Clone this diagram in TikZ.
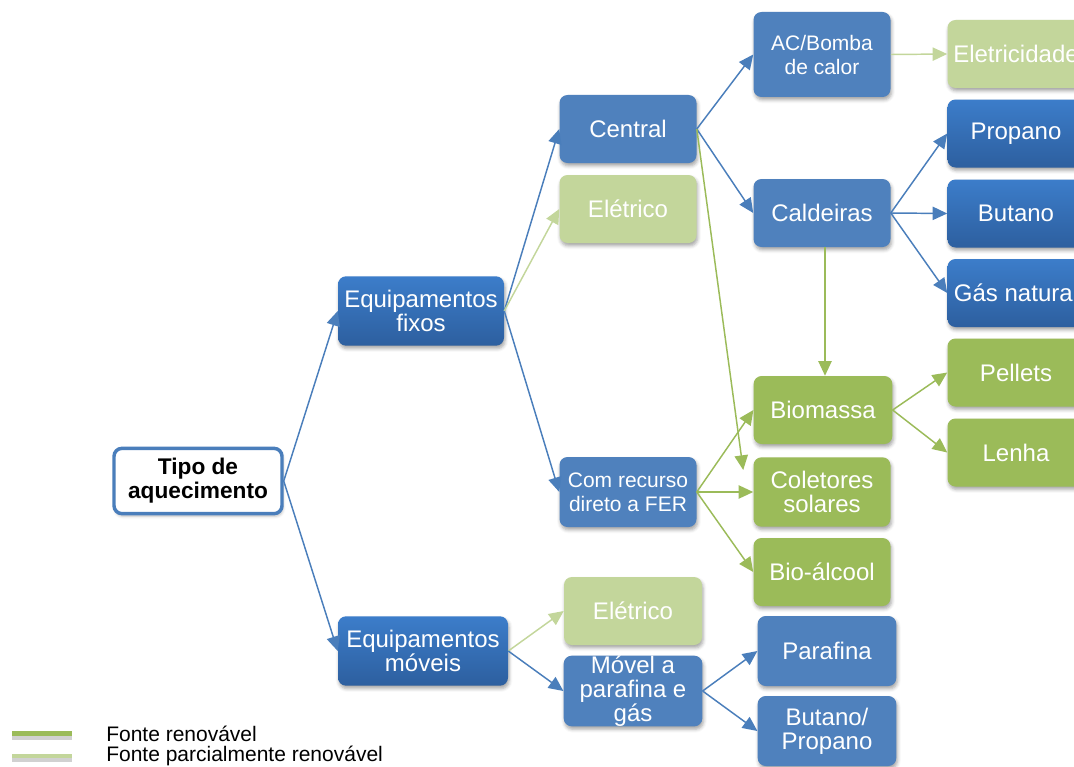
\documentclass[tikz,border=0pt]{standalone}
\usepackage{fontspec}
\setmainfont{Liberation Sans}
\usetikzlibrary{arrows.meta,shadows.blur,calc}

\definecolor{flatblue}{HTML}{4F81BD}
\definecolor{gradtop}{HTML}{3C7DCA}
\definecolor{gradbot}{HTML}{2D5F9F}
\definecolor{renew}{HTML}{9BBB59}
\definecolor{partial}{HTML}{C3D69B}
\definecolor{edgeblue}{HTML}{4A7EBB}

\begin{document}
\begin{tikzpicture}[x=0.75pt,y=-0.75pt,
  box/.style={rounded corners=6pt, minimum width=102.75pt, minimum height=51pt,
    align=center, text=white, inner sep=2pt,
    font=\fontsize{18}{18}\selectfont,
    blur shadow={shadow xshift=0.8pt, shadow yshift=-2.2pt,
      shadow blur radius=2.5pt, shadow opacity=35}},
  bluebox/.style={box, fill=flatblue},
  gradbox/.style={box, top color=gradtop, bottom color=gradbot},
  greenbox/.style={box, fill=renew},
  lightbox/.style={box, fill=partial},
  link/.style={line width=1.1pt, -{Triangle[length=11pt,width=10pt]}},
  bl/.style={link, draw=edgeblue},
  gr/.style={link, draw=renew},
  lg/.style={link, draw=partial},
  smalltext/.style={font=\fontsize{15.75}{18}\selectfont},
  legline/.style={line width=3.6pt}]

\useasboundingbox (0,0) rectangle (1074,767);
\clip (0,0) rectangle (1074,767);

% root
\node[draw=edgeblue, line width=2.6pt, fill=white, rounded corners=6pt,
      minimum width=126pt, minimum height=49pt, align=center,
      font=\fontsize{17}{18}\selectfont\bfseries,
      blur shadow={shadow xshift=0.8pt, shadow yshift=-2pt, shadow blur radius=2pt, shadow opacity=25}]
  (tipo) at (198,481) {Tipo de\\aquecimento};

% first level
\node[gradbox, minimum width=124.5pt, minimum height=52pt] (fixos) at (421,311) {Equipamentos\\fixos};
\node[gradbox, minimum width=127.5pt, minimum height=52pt] (moveis) at (423,651) {Equipamentos\\móveis};

% second level
\node[bluebox] (central) at (628,129) {Central};
\node[lightbox] (elet1) at (628,209) {Elétrico};
\node[bluebox, smalltext, minimum height=52.5pt] (fer) at (628,492) {Com recurso\\direto a FER};
\node[lightbox, minimum width=103.5pt] (elet2) at (633,611) {Elétrico};
\node[bluebox, minimum width=104pt, minimum height=52.5pt, inner ysep=0pt] (movel) at (633,691) {Móvel a\\parafina e\\gás};

% third level
\node[bluebox, smalltext, minimum height=63.75pt] (ac) at (822,54.5) {AC/Bomba\\de calor};
\node[bluebox] (cald) at (822,213) {Caldeiras};
\node[greenbox, minimum width=104pt] (bio) at (823,410) {Biomassa};
\node[greenbox, minimum height=52pt] (colet) at (822,492) {Coletores\\solares};
\node[greenbox] (bioalc) at (822,572) {Bio-álcool};
\node[bluebox, minimum width=104pt, minimum height=52.5pt] (parafina) at (827,651) {Parafina};
\node[bluebox, minimum width=104pt, minimum height=52.5pt] (butprop) at (827,731) {Butano/\\Propano};

% fourth level
\node[lightbox] (eletr) at (1016,54) {Eletricidade};
\node[gradbox] (propano) at (1016,133.5) {Propano};
\node[gradbox] (butano) at (1016,213.5) {Butano};
\node[gradbox] (gas) at (1016,293) {Gás natural};
\node[greenbox] (pellets) at (1016,372.5) {Pellets};
\node[greenbox] (lenha) at (1016,452.5) {Lenha};

% connectors
\draw[bl] (tipo.east) -- (fixos.west);
\draw[bl] (tipo.east) -- (moveis.west);
\draw[bl] (fixos.east) -- (central.west);
\draw[lg] (fixos.east) -- (elet1.west);
\draw[bl] (fixos.east) -- (fer.west);
\draw[lg] (moveis.east) -- (elet2.west);
\draw[bl] (moveis.east) -- (movel.west);
\draw[bl] (central.east) -- (ac.west);
\draw[bl] (central.east) -- (cald.west);
\draw[gr] (central.east) -- ($(colet.west)+(-10,-22)$);
\draw[lg] (ac.east) -- (eletr.west);
\draw[gr] ($(cald.south)+(3,0)$) -- ($(bio.north)+(2,0)$);
\draw[bl] (cald.east) -- (propano.west);
\draw[bl] (cald.east) -- (butano.west);
\draw[bl] (cald.east) -- (gas.west);
\draw[gr] (fer.east) -- (bio.west);
\draw[gr] (fer.east) -- (colet.west);
\draw[gr] (fer.east) -- (bioalc.west);
\draw[gr] (bio.east) -- (pellets.west);
\draw[gr] (bio.east) -- (lenha.west);
\draw[bl] (movel.east) -- (parafina.west);
\draw[bl] (movel.east) -- (butprop.west);

% legend
\coordinate (lega) at (12,733.5);
\coordinate (legb) at (72,733.5);
\coordinate (legc) at (12,756);
\coordinate (legd) at (72,756);
\draw[legline, black, opacity=0.18] ($(lega)+(0,4)$) -- ($(legb)+(0,4)$);
\draw[legline, black, opacity=0.18] ($(legc)+(0,4)$) -- ($(legd)+(0,4)$);
\draw[legline, renew] (lega) -- (legb);
\draw[legline, partial] (legc) -- (legd);
\node[anchor=west, inner sep=0pt, smalltext] (legtxta) at (106,734) {Fonte renovável};
\node[anchor=west, inner sep=0pt, smalltext] (legtxtb) at (106,756) {Fonte parcialmente renovável};
\end{tikzpicture}
\end{document}
